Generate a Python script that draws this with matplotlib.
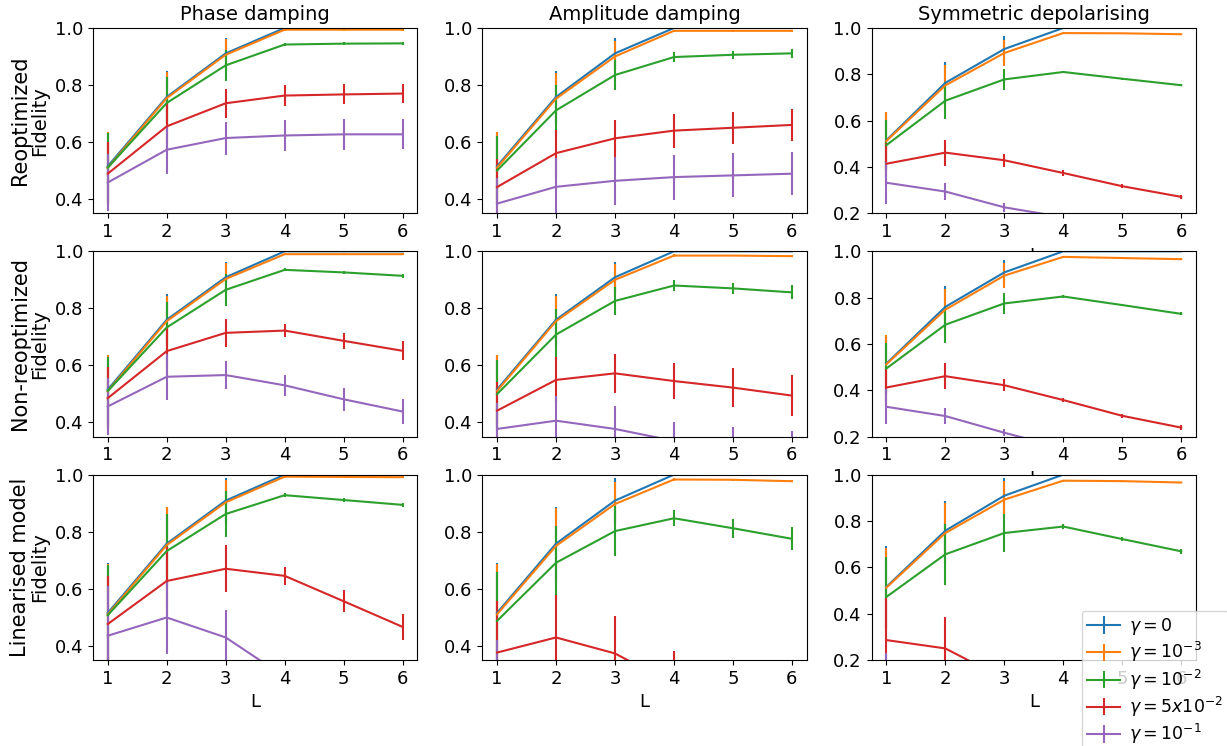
import numpy as np
import matplotlib
matplotlib.use('Agg')
import matplotlib.pyplot as plt

L = [1, 2, 3, 4, 5, 6]
gamma_labels = [r'$\gamma = 0$', r'$\gamma = 10^{-3}$', r'$\gamma = 10^{-2}$',
                r'$\gamma = 5x10^{-2}$', r'$\gamma = 10^{-1}$']
noise_titles = ['Phase damping', 'Amplitude damping', 'Symmetric depolarising']
row_names = ['Reoptimized', 'Non-reoptimized', 'Linearised model']

# fidelity means, one row per gamma (0, 1e-3, 1e-2, 5e-2, 1e-1)
reopt_phase = [[0.515, 0.758, 0.911, 1.0, 1.0, 1.0],
               [0.51, 0.754, 0.906, 0.994, 0.994, 0.994],
               [0.51, 0.737, 0.869, 0.942, 0.945, 0.946],
               [0.489, 0.655, 0.736, 0.763, 0.767, 0.770],
               [0.458, 0.573, 0.614, 0.623, 0.627, 0.627]]
reopt_phase_err = [[0.12, 0.09, 0.055, 0.003, 0.002, 0.002],
                   [0.125, 0.09, 0.055, 0.004, 0.003, 0.003],
                   [0.12, 0.09, 0.055, 0.005, 0.005, 0.005],
                   [0.11, 0.085, 0.05, 0.037, 0.035, 0.033],
                   [0.1, 0.085, 0.058, 0.055, 0.055, 0.053]]

reopt_amp = [[0.515, 0.758, 0.911, 1.0, 1.0, 1.0],
             [0.51, 0.752, 0.9, 0.99, 0.99, 0.99],
             [0.5, 0.711, 0.835, 0.898, 0.906, 0.911],
             [0.442, 0.561, 0.613, 0.64, 0.65, 0.66],
             [0.384, 0.443, 0.464, 0.477, 0.483, 0.489]]
reopt_amp_err = [[0.12, 0.09, 0.055, 0.003, 0.002, 0.002],
                 [0.125, 0.09, 0.055, 0.004, 0.003, 0.003],
                 [0.12, 0.09, 0.054, 0.018, 0.015, 0.015],
                 [0.1, 0.082, 0.065, 0.06, 0.057, 0.055],
                 [0.09, 0.1, 0.084, 0.079, 0.077, 0.076]]

reopt_dep = [[0.515, 0.763, 0.909, 1.0, 1.0, 1.0],
             [0.512, 0.752, 0.892, 0.978, 0.977, 0.973],
             [0.494, 0.686, 0.778, 0.81, 0.781, 0.753],
             [0.414, 0.462, 0.429, 0.374, 0.317, 0.271],
             [0.332, 0.294, 0.226, 0.183, 0.15, 0.12]]
reopt_dep_err = [[0.12, 0.09, 0.055, 0.003, 0.002, 0.002],
                 [0.125, 0.09, 0.055, 0.004, 0.003, 0.003],
                 [0.11, 0.08, 0.047, 0.006, 0.004, 0.005],
                 [0.09, 0.056, 0.028, 0.012, 0.008, 0.008],
                 [0.09, 0.036, 0.02, 0.015, 0.012, 0.01]]

nonre_phase = [[0.515, 0.76, 0.909, 1.0, 1.0, 1.0],
               [0.51, 0.755, 0.903, 0.99, 0.99, 0.99],
               [0.51, 0.733, 0.865, 0.935, 0.926, 0.914],
               [0.485, 0.65, 0.714, 0.722, 0.686, 0.651],
               [0.456, 0.56, 0.566, 0.53, 0.481, 0.438]]
nonre_phase_err = [[0.12, 0.09, 0.055, 0.003, 0.002, 0.002],
                   [0.125, 0.09, 0.055, 0.004, 0.003, 0.003],
                   [0.12, 0.09, 0.056, 0.005, 0.005, 0.006],
                   [0.11, 0.085, 0.048, 0.023, 0.028, 0.033],
                   [0.1, 0.08, 0.048, 0.036, 0.041, 0.045]]

nonre_amp = [[0.515, 0.76, 0.909, 1.0, 1.0, 1.0],
             [0.51, 0.755, 0.9, 0.985, 0.985, 0.983],
             [0.499, 0.708, 0.826, 0.88, 0.87, 0.856],
             [0.441, 0.549, 0.572, 0.545, 0.522, 0.494],
             [0.377, 0.406, 0.377, 0.335, 0.31, 0.29]]
nonre_amp_err = [[0.12, 0.09, 0.055, 0.003, 0.002, 0.002],
                 [0.125, 0.09, 0.055, 0.004, 0.003, 0.003],
                 [0.12, 0.09, 0.05, 0.02, 0.02, 0.025],
                 [0.1, 0.08, 0.068, 0.063, 0.068, 0.073],
                 [0.09, 0.088, 0.08, 0.065, 0.075, 0.08]]

nonre_dep = [[0.515, 0.76, 0.909, 1.0, 1.0, 1.0],
             [0.512, 0.748, 0.895, 0.976, 0.971, 0.966],
             [0.494, 0.683, 0.775, 0.805, 0.768, 0.73],
             [0.412, 0.461, 0.422, 0.358, 0.29, 0.239],
             [0.329, 0.289, 0.217, 0.15, 0.1, 0.06]]
nonre_dep_err = [[0.12, 0.09, 0.055, 0.003, 0.002, 0.002],
                 [0.125, 0.09, 0.055, 0.004, 0.003, 0.003],
                 [0.11, 0.08, 0.046, 0.006, 0.005, 0.006],
                 [0.08, 0.056, 0.027, 0.01, 0.008, 0.01],
                 [0.075, 0.033, 0.015, 0.012, 0.01, 0.01]]

lin_phase = [[0.515, 0.758, 0.909, 1.0, 1.0, 1.0],
             [0.51, 0.753, 0.903, 0.993, 0.992, 0.991],
             [0.507, 0.732, 0.862, 0.928, 0.911, 0.894],
             [0.476, 0.627, 0.67, 0.645, 0.556, 0.466],
             [0.435, 0.499, 0.429, 0.291, 0.25, 0.2]]
lin_phase_err = [[0.175, 0.13, 0.078, 0.003, 0.002, 0.002],
                 [0.178, 0.133, 0.078, 0.004, 0.003, 0.003],
                 [0.175, 0.13, 0.079, 0.007, 0.007, 0.008],
                 [0.17, 0.12, 0.083, 0.031, 0.038, 0.046],
                 [0.175, 0.127, 0.095, 0.05, 0.05, 0.05]]

lin_amp = [[0.515, 0.758, 0.909, 1.0, 1.0, 1.0],
           [0.51, 0.75, 0.897, 0.983, 0.982, 0.977],
           [0.487, 0.691, 0.802, 0.847, 0.812, 0.775],
           [0.376, 0.429, 0.373, 0.263, 0.22, 0.18],
           [0.28, 0.25, 0.2, 0.15, 0.12, 0.1]]
lin_amp_err = [[0.175, 0.13, 0.078, 0.003, 0.002, 0.002],
               [0.178, 0.133, 0.078, 0.004, 0.003, 0.003],
               [0.17, 0.13, 0.089, 0.028, 0.033, 0.041],
               [0.18, 0.148, 0.13, 0.12, 0.1, 0.1],
               [0.14, 0.09, 0.08, 0.06, 0.05, 0.05]]

lin_dep = [[0.515, 0.758, 0.909, 1.0, 1.0, 1.0],
           [0.512, 0.748, 0.892, 0.974, 0.972, 0.966],
           [0.472, 0.656, 0.748, 0.776, 0.722, 0.669],
           [0.286, 0.25, 0.118, 0.05, 0.02, 0.01],
           [0.06, 0.03, 0.01, 0.005, 0.0, 0.0]]
lin_dep_err = [[0.175, 0.13, 0.078, 0.003, 0.002, 0.002],
               [0.173, 0.13, 0.079, 0.004, 0.003, 0.003],
               [0.172, 0.132, 0.081, 0.01, 0.007, 0.01],
               [0.18, 0.135, 0.07, 0.05, 0.03, 0.03],
               [0.17, 0.1, 0.05, 0.03, 0.02, 0.02]]


def main():
    plt.rcParams['font.size'] = 13
    fig, axes = plt.subplots(3, 3, figsize=(12.27, 7.46), dpi=100)
    plt.subplots_adjust(left=0.0758, right=0.9747, top=0.9625, bottom=0.1153,
                        wspace=0.2, hspace=0.205)

    means = [[reopt_phase, reopt_amp, reopt_dep],
             [nonre_phase, nonre_amp, nonre_dep],
             [lin_phase, lin_amp, lin_dep]]
    errs = [[reopt_phase_err, reopt_amp_err, reopt_dep_err],
            [nonre_phase_err, nonre_amp_err, nonre_dep_err],
            [lin_phase_err, lin_amp_err, lin_dep_err]]

    handles = []
    for r in range(3):
        for c in range(3):
            ax = axes[r, c]
            for g in range(5):
                h = ax.errorbar(L, means[r][c][g], yerr=errs[r][c][g],
                                label=gamma_labels[g])
                if r == 0 and c == 0:
                    handles.append(h)
            ax.set_xticks(L)
            if c == 2:
                ax.set_ylim(0.2, 1.0)
                ax.set_yticks([0.2, 0.4, 0.6, 0.8, 1.0])
                ax.set_xlabel('L')
            else:
                ax.set_ylim(0.35, 1.0)
                ax.set_yticks([0.4, 0.6, 0.8, 1.0])
            if r == 2:
                ax.set_xlabel('L')
            if r == 0:
                ax.set_title(noise_titles[c], fontsize=14)
            if c == 0:
                ax.set_ylabel('Fidelity', fontsize=14)
                pos = ax.get_position()
                fig.text(20 / 1227, (pos.y0 + pos.y1) / 2, row_names[r],
                         rotation=90, ha='center', va='center', fontsize=15)

    fig.legend(handles, gamma_labels, loc='upper left',
               bbox_to_anchor=(1082 / 1227, 1 - 611 / 746), borderaxespad=0,
               borderpad=0.3, handlelength=1.9, handletextpad=0.5,
               labelspacing=0.18, fontsize=12.5)
    plt.savefig('out.png', dpi=100)


if __name__ == '__main__':
    main()
